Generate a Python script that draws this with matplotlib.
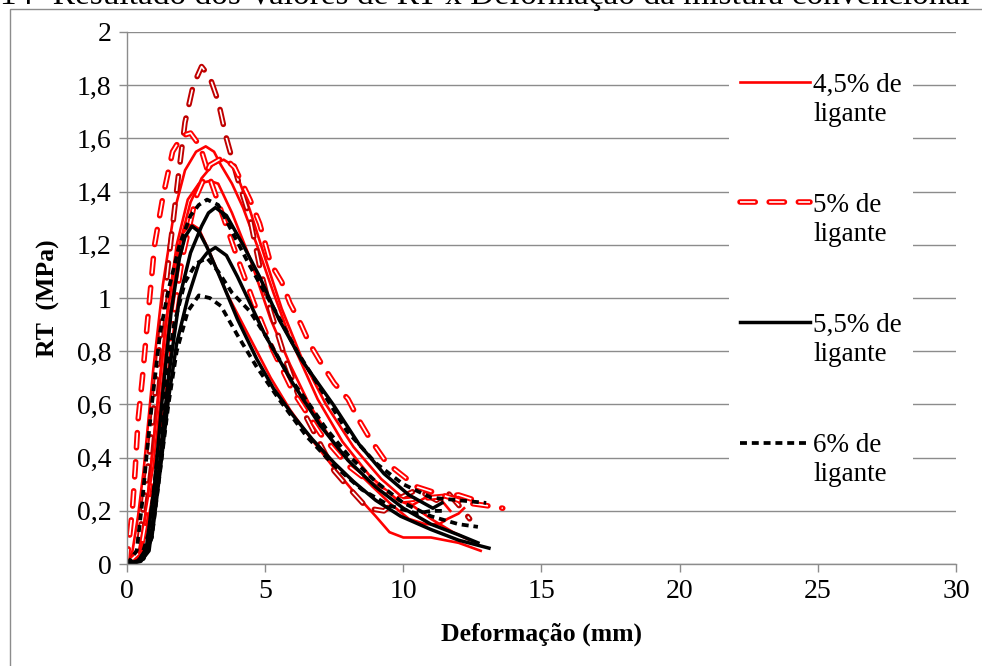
import matplotlib
matplotlib.use("Agg")
import matplotlib.pyplot as plt
from matplotlib.lines import Line2D
from matplotlib.legend_handler import HandlerBase
from matplotlib.patches import Rectangle

plt.rcParams['font.family'] = ['Liberation Serif', 'DejaVu Serif']
plt.rcParams['lines.scale_dashes'] = False

title = "14- Resultado dos Valores de RT x Deformação da mistura convencional"
x_label = "Deformação (mm)"
y_label = "RT  (MPa)"
x_ticks = [0, 5, 10, 15, 20, 25, 30]
y_ticks = [0, 0.2, 0.4, 0.6, 0.8, 1.0, 1.2, 1.4, 1.6, 1.8, 2.0]
y_tick_labels = ["0", "0,2", "0,4", "0,6", "0,8", "1", "1,2", "1,4", "1,6", "1,8", "2"]
labels = ["4,5% de\nligante", "5% de\nligante", "5,5% de\nligante", "6% de\nligante"]

# 4,5% de ligante (vermelho, continuo)
lig45_x = [
    [0, 0.2, 0.4, 0.6, 0.95, 1.3, 1.7, 2.1, 2.5, 2.85, 3.15, 3.4, 3.8, 4.2, 4.7, 5.3, 5.9, 6.9, 7.8, 8.8, 9.8, 10.3, 10.8, 11.3, 11.7],
    [0, 0.4, 0.7, 1.0, 1.4, 1.8, 2.2, 2.6, 3.0, 3.3, 3.8, 4.45, 5.2, 5.9, 6.6, 7.5, 8.5, 9.5, 10.2, 10.8, 11.3, 11.6, 12.0, 12.2],
    [0, 0.5, 0.8, 1.1, 1.5, 1.9, 2.3, 2.7, 3.1, 3.5, 3.8, 4.1, 4.45, 5.0, 5.6, 6.3, 7.2, 8.2, 9.2, 10.2, 11.0, 11.8, 12.4],
    [0, 0.5, 0.8, 1.1, 1.4, 1.7, 2.0, 2.3, 2.6, 3.0, 3.6, 4.45, 5.2, 5.9, 6.6, 7.5, 8.3, 9.0, 9.5, 10.0, 10.5, 11.0, 12.0, 12.8],
]
lig45_y = [
    [0, 0.05, 0.18, 0.35, 0.73, 1.05, 1.32, 1.48, 1.55, 1.57, 1.55, 1.5, 1.43, 1.34, 1.2, 1.02, 0.85, 0.62, 0.46, 0.33, 0.24, 0.22, 0.25, 0.25, 0.2],
    [0, 0.03, 0.2, 0.5, 0.9, 1.2, 1.37, 1.43, 1.44, 1.43, 1.32, 1.15, 0.92, 0.75, 0.6, 0.45, 0.33, 0.23, 0.17, 0.15, 0.15, 0.17, 0.19, 0.21],
    [0, 0.03, 0.2, 0.5, 0.9, 1.2, 1.36, 1.45, 1.5, 1.52, 1.5, 1.43, 1.33, 1.15, 0.96, 0.78, 0.6, 0.44, 0.32, 0.23, 0.17, 0.12, 0.09],
    [0, 0.05, 0.3, 0.6, 0.9, 1.12, 1.24, 1.28, 1.26, 1.17, 1.02, 0.85, 0.7, 0.58, 0.48, 0.36, 0.26, 0.18, 0.12, 0.1, 0.1, 0.1, 0.08, 0.05],
]

# 5% de ligante (vermelho, tracejado duplo)
lig5_x = [
    [0, 0.4, 0.8, 1.2, 1.55, 1.85, 2.1, 2.4, 2.7, 3.0, 3.3, 3.6, 4.0, 4.45, 4.8, 5.2, 5.8, 6.5, 7.5, 8.0, 8.7, 9.3, 9.9, 10.5, 11.2, 11.6, 12.1, 12.4],
    [0, 0.05, 0.2, 0.3, 0.4, 0.55, 0.75, 1.0, 1.3, 1.65, 2.0, 2.3, 2.65, 3.0, 3.5, 4.0, 4.6, 5.3, 6.0, 7.0, 8.0, 9.0, 10.0, 11.0, 12.0, 12.6],
    [0, 0.5, 1.0, 1.5, 2.0, 2.5, 3.0, 3.5, 3.9, 4.45, 4.8, 5.2, 5.6, 5.9, 6.3, 6.6, 7.0, 7.5, 8.0, 8.4, 8.8, 9.4, 10.5, 11.7, 12.3, 13.0, 13.6],
]
lig5_y = [
    [0, 0.05, 0.4, 0.85, 1.18, 1.45, 1.66, 1.8, 1.87, 1.83, 1.74, 1.6, 1.45, 1.3, 1.12, 0.95, 0.75, 0.55, 0.35, 0.29, 0.21, 0.2, 0.25, 0.28, 0.24, 0.27, 0.21, 0.17],
    [0, 0.06, 0.21, 0.36, 0.54, 0.69, 0.92, 1.2, 1.38, 1.55, 1.61, 1.62, 1.57, 1.45, 1.3, 1.15, 0.98, 0.8, 0.65, 0.49, 0.37, 0.29, 0.24, 0.25, 0.26, 0.24],
    [0, 0.05, 0.35, 0.8, 1.15, 1.38, 1.5, 1.53, 1.49, 1.37, 1.28, 1.13, 1.06, 0.98, 0.9, 0.83, 0.76, 0.68, 0.62, 0.54, 0.47, 0.38, 0.29, 0.25, 0.23, 0.22, 0.21],
]
lig5_colors = ["#C00000", "#FF0000", "#FF0000"]

# 5,5% de ligante (preto, continuo)
lig55_x = [
    [0, 0.4, 0.7, 1.0, 1.3, 1.6, 1.9, 2.1, 2.35, 2.6, 2.9, 3.4, 4.0, 4.7, 5.3, 6.0, 6.7, 7.5, 8.2, 9.0, 9.9, 11.0, 12.0, 13.1],
    [0, 0.5, 0.8, 1.1, 1.5, 1.9, 2.3, 2.7, 2.95, 3.2, 3.6, 4.2, 4.8, 5.5, 6.3, 7.46, 8.4, 9.3, 10.2, 11.07, 11.4],
    [0, 0.6, 0.9, 1.2, 1.5, 1.8, 2.2, 2.6, 2.9, 3.2, 3.6, 4.0, 4.5, 5.0, 6.0, 7.0, 8.0, 9.0, 10.0, 11.0, 12.0, 12.7],
]
lig55_y = [
    [0, 0.01, 0.06, 0.3, 0.65, 0.95, 1.15, 1.23, 1.27, 1.25, 1.19, 1.07, 0.92, 0.77, 0.66, 0.56, 0.47, 0.38, 0.31, 0.24, 0.18, 0.13, 0.09, 0.06],
    [0, 0.01, 0.05, 0.3, 0.7, 1.0, 1.17, 1.27, 1.32, 1.34, 1.31, 1.2, 1.08, 0.92, 0.77, 0.6, 0.45, 0.34, 0.26, 0.21, 0.23],
    [0, 0.02, 0.1, 0.35, 0.62, 0.83, 1.0, 1.13, 1.17, 1.19, 1.16, 1.08, 0.97, 0.86, 0.68, 0.52, 0.39, 0.29, 0.21, 0.15, 0.11, 0.08],
]

# 6% de ligante (preto, tracejado)
lig6_x = [
    [0, 0.15, 0.35, 0.55, 0.72, 0.9, 1.2, 1.5, 1.9, 2.3, 2.6, 2.9, 3.3, 3.8, 4.45, 5.43, 6.15, 7.0, 7.96, 9.0, 10.0, 11.0, 12.0, 13.0],
    [0, 0.5, 0.8, 1.1, 1.4, 1.7, 2.1, 2.5, 2.9, 3.3, 3.8, 4.45, 5.07, 5.9, 6.6, 7.2, 8.0, 9.0, 10.0, 11.0, 12.0, 12.7],
    [0, 0.6, 0.9, 1.2, 1.5, 1.8, 2.2, 2.6, 3.0, 3.4, 4.0, 4.7, 5.5, 6.5, 7.5, 8.5, 9.5, 10.5, 11.0, 11.5],
]
lig6_y = [
    [0, 0.02, 0.05, 0.23, 0.42, 0.6, 0.87, 1.03, 1.2, 1.31, 1.35, 1.37, 1.35, 1.25, 1.12, 0.94, 0.8, 0.66, 0.5, 0.38, 0.3, 0.25, 0.24, 0.23],
    [0, 0.02, 0.12, 0.4, 0.68, 0.9, 1.06, 1.13, 1.15, 1.1, 1.02, 0.95, 0.85, 0.7, 0.6, 0.51, 0.41, 0.31, 0.23, 0.18, 0.15, 0.14],
    [0, 0.02, 0.1, 0.35, 0.6, 0.8, 0.95, 1.01, 1.0, 0.97, 0.86, 0.74, 0.62, 0.48, 0.37, 0.28, 0.22, 0.19, 0.2, 0.2],
]

red_dash = (0, (11, 10))
black_dash = (0, (5, 3.5))


class TopLineHandler(HandlerBase):
    # legend line drawn level with the first text line, like Excel does
    def __init__(self, inner=None):
        super().__init__()
        self.inner = inner

    def create_artists(self, legend, orig_handle, xdescent, ydescent, width, height, fontsize, trans):
        y = height - ydescent + fontsize * 0.3
        xs = [-xdescent, -xdescent + width]
        line = Line2D(xs, [y, y])
        line.update_from(orig_handle)
        line.set_transform(trans)
        artists = [line]
        if self.inner is not None:
            core = Line2D(xs, [y, y])
            core.update_from(self.inner)
            core.set_transform(trans)
            artists.append(core)
        return artists


fig = plt.figure(figsize=(9.82, 6.66), dpi=100)
ax = fig.add_axes([0.1293, 0.153, 0.8442, 0.799])

fig.patches.append(Rectangle((0.010, -0.05), 1.2, 1.05 - 9 / 666, transform=fig.transFigure,
                             fill=False, edgecolor="#8c8c8c", linewidth=1.0))
fig.text(0.0, 1 - 4 / 666, title, fontsize=24, va="baseline", ha="left")

for xs, ys in zip(lig45_x, lig45_y):
    h45, = ax.plot(xs, ys, color="#FF0000", linewidth=1.9, solid_joinstyle="round")

for xs, ys, c in zip(lig5_x, lig5_y, lig5_colors):
    h5, = ax.plot(xs, ys, color=c, linewidth=4.0, linestyle=red_dash, dash_capstyle="round")
    h5w, = ax.plot(xs, ys, color="white", linewidth=1.2, linestyle=red_dash, dash_capstyle="butt")
h5.set_color("#FF0000")

for xs, ys in zip(lig55_x, lig55_y):
    h55, = ax.plot(xs, ys, color="black", linewidth=2.5, solid_joinstyle="round")

for xs, ys in zip(lig6_x, lig6_y):
    h6, = ax.plot(xs, ys, color="black", linewidth=2.7, linestyle=black_dash)

ax.set_xlim(0, 30)
ax.set_ylim(0, 2)
ax.set_xticks(x_ticks)
ax.set_yticks(y_ticks)
ax.set_yticklabels(y_tick_labels)
ax.tick_params(axis="both", direction="out", length=6, width=1.0, color="#8c8c8c",
               labelsize=20, pad=5)
ax.grid(axis="y", color="#8c8c8c", linewidth=1.0)
ax.set_axisbelow(True)
for side in ["top", "right"]:
    ax.spines[side].set_visible(False)
for side in ["left", "bottom"]:
    ax.spines[side].set_color("#8c8c8c")
    ax.spines[side].set_linewidth(1.0)

ax.set_xlabel(x_label, fontsize=18.5, fontweight="bold", labelpad=13)
ax.set_ylabel(y_label, fontsize=18.5, fontweight="bold", labelpad=12)

leg = ax.legend([h45, h5, h55, h6], labels,
                handler_map={h45: TopLineHandler(), h5: TopLineHandler(h5w),
                             h55: TopLineHandler(), h6: TopLineHandler()},
                loc="upper left", bbox_to_anchor=(0.71, 0.969), fontsize=19.5,
                frameon=True, fancybox=False, edgecolor="none", facecolor="white", framealpha=1,
                handlelength=2.6, handletextpad=0.1, labelspacing=2.45, borderpad=0.4)

fig.savefig("out.png", dpi=100)
